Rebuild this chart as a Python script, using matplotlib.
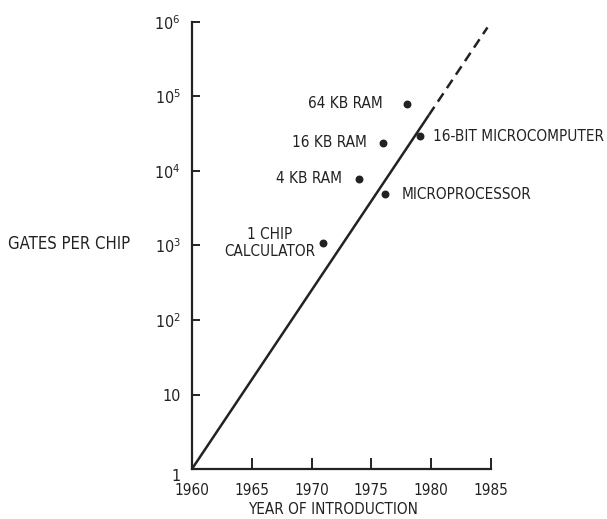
import matplotlib
matplotlib.use("Agg")
import matplotlib.pyplot as plt
import matplotlib.ticker as mticker

plt.rcParams['font.family'] = ['DejaVu Sans']
plt.rcParams['font.stretch'] = 'condensed'
plt.rcParams['mathtext.default'] = 'regular'

# chip milestones (year, gates per chip)
chip_names = ['64 KB RAM', '16 KB RAM', '4 KB RAM', '16-BIT MICROCOMPUTER',
              'MICROPROCESSOR', '1 CHIP\nCALCULATOR']
chip_years = [1978.0, 1976.0, 1974.0, 1979.1, 1976.1, 1971.0]
chip_gates = [7.9e4, 2.4e4, 7.8e3, 2.9e4, 4.9e3, 1.08e3]

# trend line: solid part then dashed extrapolation
trend_years = [1960, 1979.8]
trend_gates = [1, 5.6e4]
extrap_years = [1979.8, 1984.7]
extrap_gates = [5.6e4, 8.4e5]

x_ticks = [1960, 1965, 1970, 1975, 1980, 1985]
y_ticks = [1, 10, 1e2, 1e3, 1e4, 1e5, 1e6]
y_labels = ['1', '10', '$10^2$', '$10^3$', '$10^4$', '$10^5$', '$10^6$']

fig = plt.figure(figsize=(6.07, 5.19), dpi=100)
ax = fig.add_axes([0.316, 0.096, 0.493, 0.862])

ax.plot(trend_years, trend_gates, color='#222222', lw=1.8, solid_capstyle='butt')
ax.plot(extrap_years, extrap_gates, color='#222222', lw=1.8, linestyle=(0, (4, 2.5)))
ax.scatter(chip_years, chip_gates, s=22, color='#222222', zorder=3)

# label offsets in pixels (dx, dy) and alignment
offsets = [(-25, 0, 'right'), (-16, 0, 'right'), (-17, 0, 'right'),
           (13, 0, 'left'), (17, 0, 'left'), (-8, 0, 'right')]
for name, x, y, (dx, dy, ha) in zip(chip_names, chip_years, chip_gates, offsets):
    ax.annotate(name, (x, y), xytext=(dx, dy), textcoords='offset pixels',
                ha=ha, va='center', multialignment='center', fontsize=11,
                color='#222222', linespacing=1.2)

ax.set_yscale('log')
ax.set_xlim(1960, 1985)
ax.set_ylim(1, 1e6)
ax.set_xticks(x_ticks)
ax.set_yticks(y_ticks)
ax.set_yticklabels(y_labels)
ax.yaxis.set_minor_locator(mticker.NullLocator())

for s in ['top', 'right']:
    ax.spines[s].set_visible(False)
for s in ['left', 'bottom']:
    ax.spines[s].set_linewidth(1.6)
    ax.spines[s].set_color('#222222')

ax.tick_params(axis='x', direction='in', length=8, width=1.4, labelsize=11,
               colors='#222222', pad=10)
ax.tick_params(axis='y', direction='in', length=6, width=1.4, labelsize=11.5,
               colors='#222222', pad=8)
# the "1" label sits a bit below the axis line in the original
ax.get_yticklabels()[0].set_verticalalignment('top')

fig.text(0.549, 0.018, 'YEAR OF INTRODUCTION', fontsize=11, color='#222222',
         ha='center', va='center')
fig.text(0.013, 0.530, 'GATES PER CHIP', fontsize=12, color='#222222',
         ha='left', va='center')

fig.savefig('out.png', dpi=100, facecolor='white')
